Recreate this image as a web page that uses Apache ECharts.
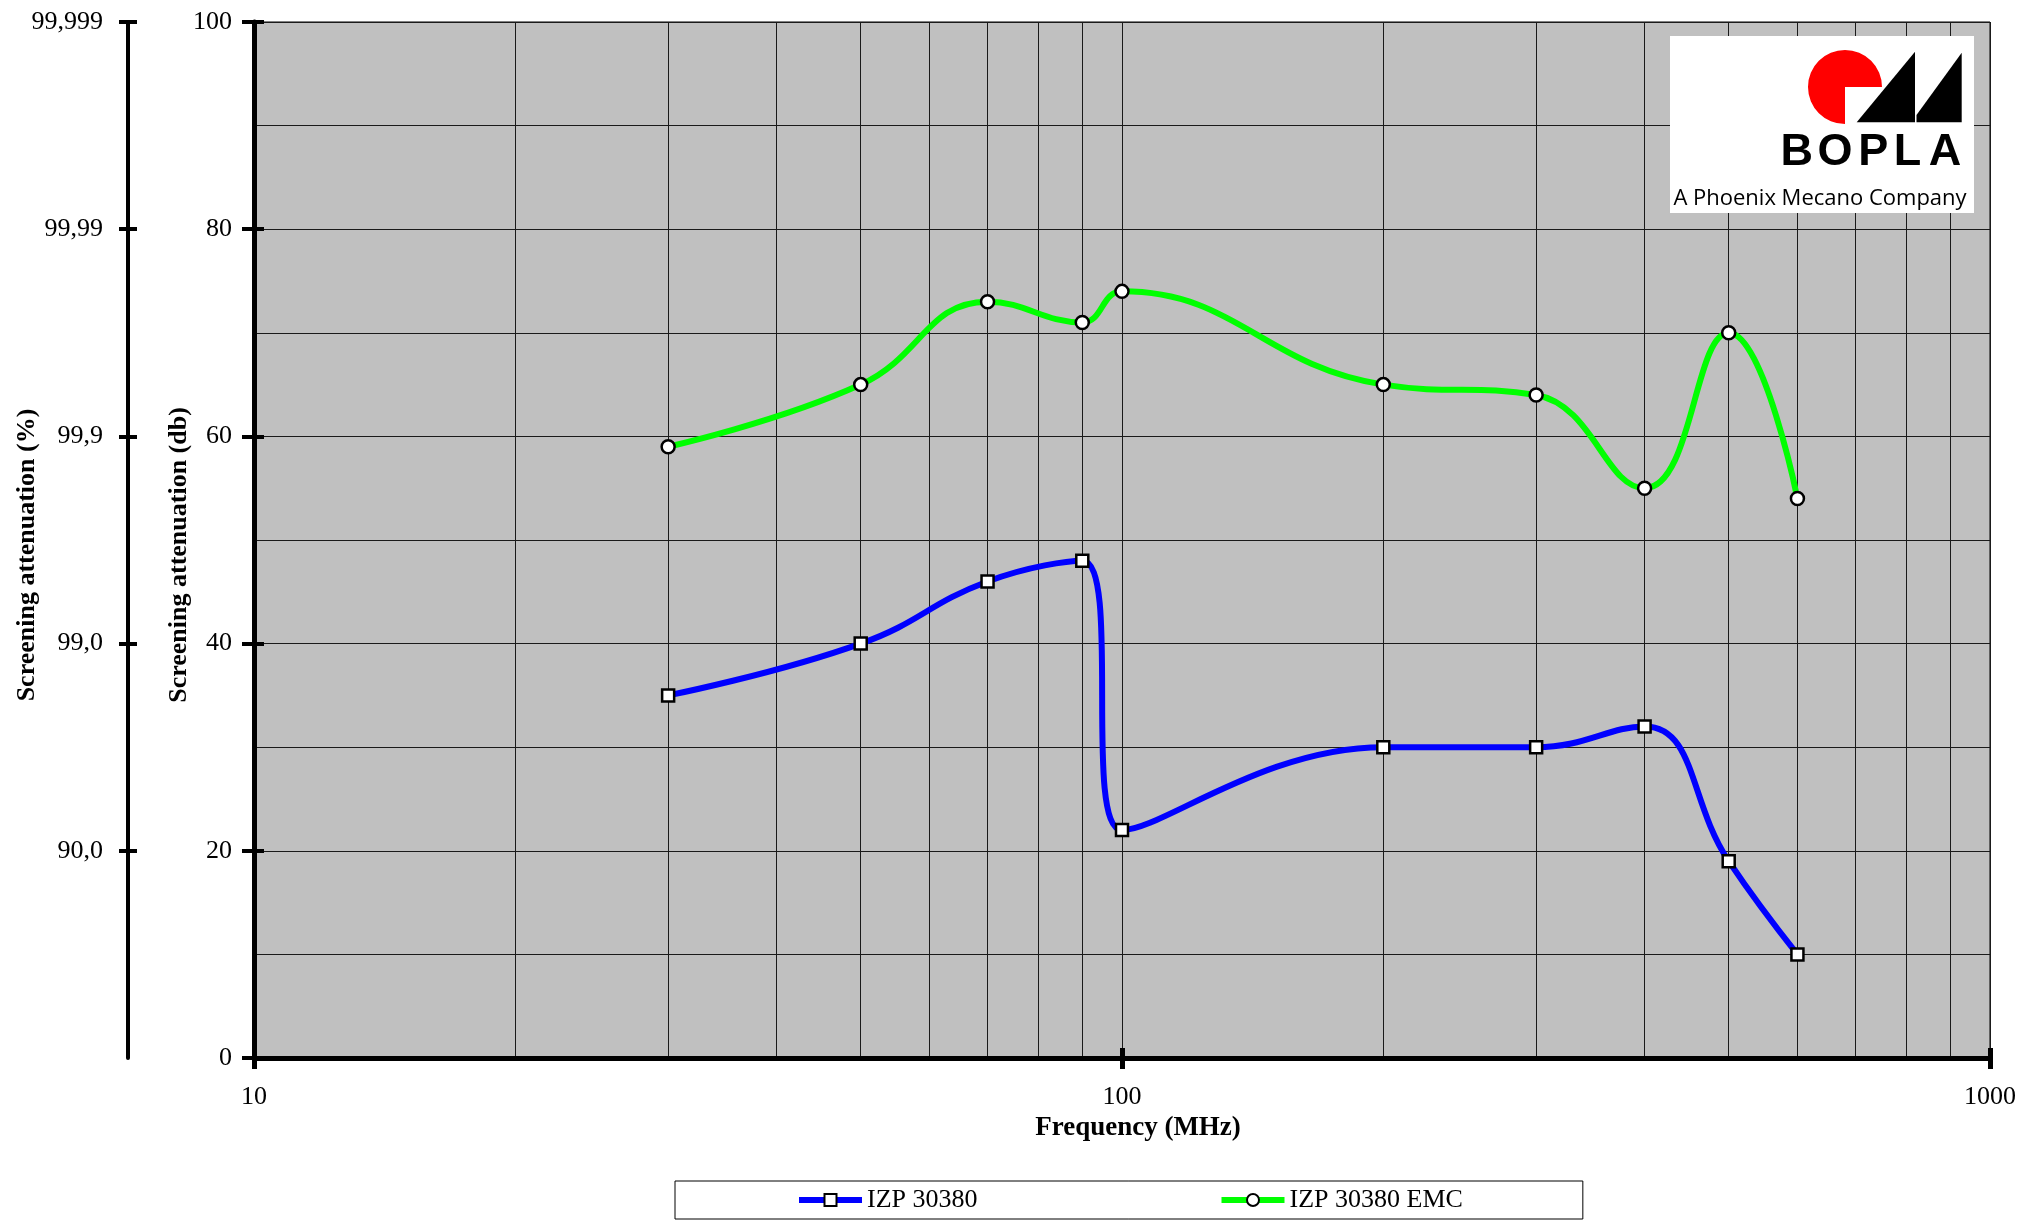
<!DOCTYPE html>
<html>
<head>
<meta charset="utf-8">
<script src="https://cdn.jsdelivr.net/npm/echarts@6/dist/echarts.min.js"></script>
<style>html,body{margin:0;padding:0;background:#fff}#c{width:2019px;height:1226px}</style>
</head>
<body>
<div id="c"></div>
<script>
// ---- data ----
const freqs = [30, 50, 70, 90, 100, 200, 300, 400, 500, 600];           // MHz
const izp30380 = [35, 40, 46, 48, 22, 30, 30, 32, 19, 10];              // dB
const izp30380emc = [59, 65, 73, 71, 74, 65, 64, 55, 70, 54];           // dB
const seriesNames = ['IZP 30380', 'IZP 30380 EMC'];
const dbTicks = [0, 20, 40, 60, 80, 100];
const pctTickValues = [20, 40, 60, 80, 100];
const pctTickLabels = ['90,0', '99,0', '99,9', '99,99', '99,999'];
const freqMajor = [10, 100, 1000];
const freqMinorGrid = [20, 30, 40, 50, 60, 70, 80, 90, 200, 300, 400, 500, 600, 700, 800, 900];

const FONT = 'Liberation Serif';
const chart = echarts.init(document.getElementById('c'), null, {renderer: 'canvas'});

function pairs(xs, ys) { return xs.map((x, i) => [x, ys[i]]); }

const black = '#000';
const gridLine = {show: true, lineStyle: {color: '#1a1a1a', width: 1}};

const option = {
  backgroundColor: '#fff',
  animation: false,
  textStyle: {fontFamily: FONT},
  grid: {left: 254, right: 29, top: 22, bottom: 168, show: true,
         outerBoundsMode: 'none', containLabel: false,
         backgroundColor: '#C0C0C0', borderColor: '#000', borderWidth: 1},
  xAxis: [
    {type: 'log', logBase: 10, min: 10, max: 1000, position: 'bottom',
     name: 'Frequency (MHz)', nameLocation: 'middle', nameGap: 57, nameMoveOverlap: false,
     nameTextStyle: {fontFamily: FONT, fontSize: 27, fontWeight: 'bold', color: black,
                     padding: [0, 0, 0, 32]},
     axisLine: {show: true, onZero: false, lineStyle: {color: black, width: 5}},
     axisTick: {show: true, inside: false, length: 11, lineStyle: {color: black, width: 5}},
     axisLabel: {fontFamily: FONT, fontSize: 26, color: black, margin: 26,
                 customValues: freqMajor, formatter: v => String(Math.round(v))},
     splitLine: gridLine},
    {type: 'log', logBase: 10, min: 10, max: 1000, position: 'bottom',
     axisLine: {show: false}, axisLabel: {show: false},
     axisTick: {show: true, inside: true, length: 10, lineStyle: {color: black, width: 5}},
     splitLine: {show: false}},
    {type: 'log', logBase: 10, min: 10, max: 1000, position: 'bottom',
     axisLine: {show: false}, axisLabel: {show: false},
     axisTick: {show: true, customValues: freqMinorGrid, length: 0, lineStyle: {opacity: 0}},
     splitLine: gridLine}
  ],
  yAxis: [
    {type: 'value', min: 0, max: 100, interval: 20, position: 'left',
     name: 'Screening attenuation (db)', nameLocation: 'middle', nameGap: 62, nameMoveOverlap: false,
     nameTextStyle: {fontFamily: FONT, fontSize: 26, fontWeight: 'bold', color: black,
                     padding: [0, 30, 0, 0]},
     axisLine: {show: true, onZero: false, lineStyle: {color: black, width: 5}},
     axisTick: {show: true, inside: false, length: 12, lineStyle: {color: black, width: 4}},
     axisLabel: {fontFamily: FONT, fontSize: 26, color: black, margin: 22,
                 customValues: dbTicks},
     splitLine: gridLine,
     minorTick: {show: false, splitNumber: 2},
     minorSplitLine: gridLine},
    {type: 'value', min: 0, max: 100, interval: 20, position: 'left',
     axisLine: {show: false}, axisLabel: {show: false},
     axisTick: {show: true, inside: true, length: 10, lineStyle: {color: black, width: 4}},
     splitLine: {show: false}},
    {type: 'value', min: 0, max: 100, interval: 20, position: 'left', offset: 126,
     name: 'Screening attenuation (%)', nameLocation: 'middle', nameGap: 88, nameMoveOverlap: false,
     nameTextStyle: {fontFamily: FONT, fontSize: 26, fontWeight: 'bold', color: black,
                     padding: [0, 30, 0, 0]},
     axisLine: {show: true, onZero: false, lineStyle: {color: black, width: 4}},
     axisTick: {show: true, inside: false, length: 9, customValues: pctTickValues,
                lineStyle: {color: black, width: 4}},
     axisLabel: {fontFamily: FONT, fontSize: 26, color: black, margin: 25,
                 customValues: pctTickValues,
                 formatter: v => pctTickLabels[pctTickValues.indexOf(v)] || ''},
     splitLine: {show: false}},
    {type: 'value', min: 0, max: 100, interval: 20, position: 'left', offset: 126,
     axisLine: {show: false}, axisLabel: {show: false},
     axisTick: {show: true, inside: true, length: 9, customValues: pctTickValues,
                lineStyle: {color: black, width: 4}},
     splitLine: {show: false}}
  ],
  legend: {
    show: true, left: 675, top: 1181, orient: 'horizontal',
    padding: [6, 120, 6, 121], itemGap: 241, itemWidth: 63, itemHeight: 15,
    backgroundColor: '#fff', borderColor: '#000', borderWidth: 1, borderRadius: 0,
    textStyle: {fontFamily: FONT, fontSize: 26, color: black},
    lineStyle: {width: 6},
    itemStyle: {borderWidth: 2},
    data: seriesNames
  },
  series: [
    {name: seriesNames[0], type: 'line', xAxisIndex: 0, yAxisIndex: 0,
     data: pairs(freqs, izp30380), smooth: 0.45,
     lineStyle: {color: '#0000FF', width: 6}, color: '#0000FF',
     symbol: 'rect', symbolSize: 12,
     itemStyle: {color: '#fff', borderColor: '#000', borderWidth: 2.5}, z: 3},
    {name: seriesNames[1], type: 'line', xAxisIndex: 0, yAxisIndex: 0,
     data: pairs(freqs, izp30380emc), smooth: 0.45,
     lineStyle: {color: '#00FF00', width: 6}, color: '#00FF00',
     symbol: 'circle', symbolSize: 13,
     itemStyle: {color: '#fff', borderColor: '#000', borderWidth: 2.5}, z: 3}
  ],
  graphic: [
    {type: 'group', z: 100, children: [
      {type: 'rect', shape: {x: 1670, y: 36, width: 304, height: 177}, style: {fill: '#fff'}, z: 100},
      {type: 'sector', shape: {cx: 1845, cy: 87, r: 37, r0: 0, startAngle: Math.PI / 2, endAngle: Math.PI * 2, clockwise: true},
       style: {fill: '#FF0000'}, z: 101},
      {type: 'polygon', shape: {points: [[1856.7, 122.3], [1915, 51.7], [1915, 122.3]]}, style: {fill: '#000'}, z: 101},
      {type: 'polygon', shape: {points: [[1916.5, 122.3], [1916.5, 115], [1961.7, 52.7], [1961.7, 122.3]]}, style: {fill: '#000'}, z: 101},
      {type: 'text', x: 1796.7, y: 153, style: {text: 'B', font: 'bold 45px "Liberation Sans"', fill: '#000', align: 'center', verticalAlign: 'middle'}, z: 101},
      {type: 'text', x: 1835, y: 153, style: {text: 'O', font: 'bold 45px "Liberation Sans"', fill: '#000', align: 'center', verticalAlign: 'middle'}, z: 101},
      {type: 'text', x: 1873.3, y: 153, style: {text: 'P', font: 'bold 45px "Liberation Sans"', fill: '#000', align: 'center', verticalAlign: 'middle'}, z: 101},
      {type: 'text', x: 1907.5, y: 153, style: {text: 'L', font: 'bold 45px "Liberation Sans"', fill: '#000', align: 'center', verticalAlign: 'middle'}, z: 101},
      {type: 'text', x: 1945, y: 153, style: {text: 'A', font: 'bold 45px "Liberation Sans"', fill: '#000', align: 'center', verticalAlign: 'middle'}, z: 101},
      {type: 'text', x: 1820, y: 199, style: {text: 'A Phoenix Mecano Company', font: '22px "Open Sans"', fill: '#000', align: 'center', verticalAlign: 'middle'}, z: 101}
    ]}
  ]
};
chart.setOption(option);
</script>
</body>
</html>
